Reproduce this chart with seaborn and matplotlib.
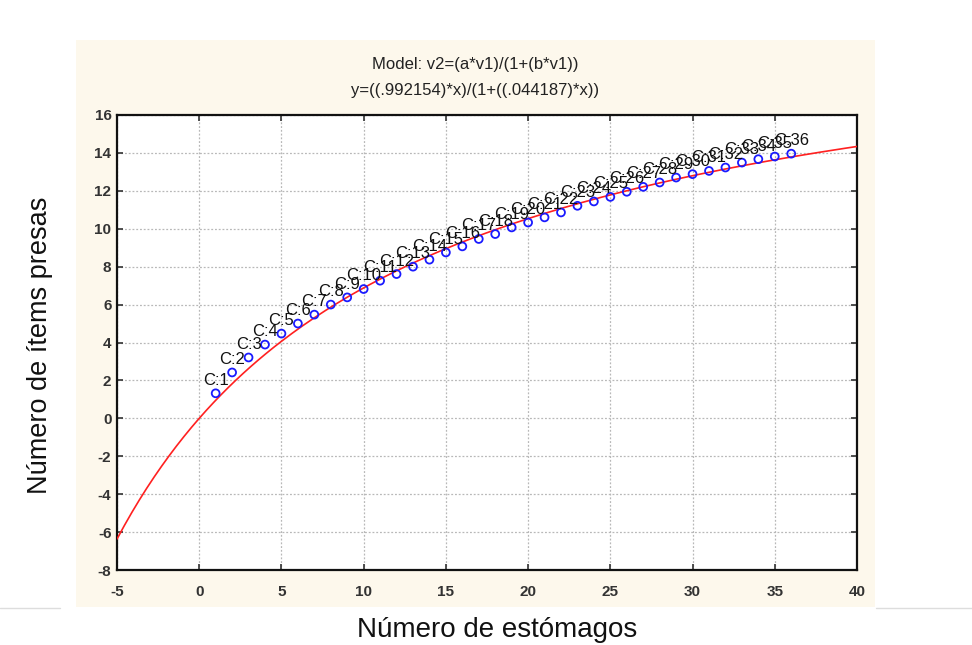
import numpy as np
import pandas as pd
import matplotlib
matplotlib.use("Agg")
import matplotlib.pyplot as plt
from matplotlib import font_manager
import seaborn as sns

# ---- data ----
estomagos = list(range(1, 37))
items = [1.32, 2.42, 3.21, 3.89, 4.47, 5.00, 5.47, 6.00, 6.38, 6.82,
         7.26, 7.61, 8.00, 8.37, 8.75, 9.07, 9.46, 9.72, 10.07, 10.33,
         10.60, 10.86, 11.21, 11.44, 11.68, 11.95, 12.21, 12.44, 12.70, 12.88,
         13.05, 13.23, 13.49, 13.67, 13.81, 13.96]
point_labels = [f"C:{i}" for i in estomagos]

# model parameters shown in the chart title
a_param = 0.992154
b_param = 0.044187
curve_x = list(np.linspace(-5, 40, 200))

xticks = [-5, 0, 5, 10, 15, 20, 25, 30, 35, 40]
yticks = [-8, -6, -4, -2, 0, 2, 4, 6, 8, 10, 12, 14, 16]

title1 = "Model: v2=(a*v1)/(1+(b*v1))"
title2 = "y=((.992154)*x)/(1+((.044187)*x))"
xlabel = "Número de estómagos"
ylabel = "Número de ítems presas"

# ---- plotting ----
sns.set_theme(style="white")
plt.rcParams['font.family'] = ['Liberation Sans', 'DejaVu Sans']

installed = {f.name for f in font_manager.fontManager.ttflist}
narrow = 'Liberation Sans Narrow' if 'Liberation Sans Narrow' in installed else 'Liberation Sans'

fig = plt.figure(figsize=(9.72, 6.45), dpi=100)
fig.patch.set_facecolor("white")

# cream panel behind the chart
panel = plt.Rectangle((76 / 972, 1 - 607 / 645), (875 - 76) / 972, (607 - 40) / 645,
                      transform=fig.transFigure, facecolor="#fdf8ec", edgecolor="none", zorder=-5)
fig.patches.append(panel)

# faint page-layout lines
fig.add_artist(plt.Line2D([0, 60 / 972], [1 - 608 / 645] * 2, transform=fig.transFigure,
                          color="#dddddd", lw=1, zorder=-5))
fig.add_artist(plt.Line2D([876 / 972, 1], [1 - 608 / 645] * 2, transform=fig.transFigure,
                          color="#dddddd", lw=1, zorder=-5))

ax = fig.add_axes([117 / 972, 1 - 570 / 645, (857 - 117) / 972, (570 - 115) / 645])
ax.set_zorder(1)
ax.set_facecolor("white")

curve_df = pd.DataFrame({"x": curve_x})
curve_df["y"] = a_param * curve_df["x"] / (1 + b_param * curve_df["x"])
sns.lineplot(data=curve_df, x="x", y="y", ax=ax, color="#ff2020", lw=1.2, zorder=3)

pts = pd.DataFrame({"x": estomagos, "y": items, "lab": point_labels})
sns.scatterplot(data=pts, x="x", y="y", ax=ax, marker="o", s=32,
                facecolor="none", edgecolor="#1a1aff", linewidth=1.3, zorder=4)

for xv, yv, lab in zip(pts["x"], pts["y"], pts["lab"]):
    ax.annotate(lab, (xv, yv), xytext=(0, 4), textcoords="offset points",
                ha="center", va="bottom", fontsize=12, color="#111111", zorder=5)

ax.set_xlim(-5, 40)
ax.set_ylim(-8, 16)
ax.set_xticks(xticks)
ax.set_yticks(yticks)
ax.set_xticklabels([str(t) for t in xticks])
ax.set_yticklabels([str(t) for t in yticks])
ax.tick_params(axis="both", which="both", direction="in", length=4, width=1.2,
               colors="#333333", labelsize=11, top=True, right=True,
               labeltop=False, labelright=False, bottom=True, left=True)
ax.tick_params(axis="x", pad=11)
ax.tick_params(axis="y", pad=4)
for lab in ax.get_xticklabels() + ax.get_yticklabels():
    lab.set_fontweight("bold")
    lab.set_family([narrow, 'Liberation Sans'])
ax.grid(True, color="#b8b8b8", linestyle=(0, (1.5, 1.5)), linewidth=0.9)
for sp in ax.spines.values():
    sp.set_color("#111111")
    sp.set_linewidth(1.6)
    sp.set_visible(True)

ax.set_xlabel("")
ax.set_ylabel("")

fig.text(475 / 972, 1 - 65 / 645, title1, ha="center", va="center", fontsize=12, color="#222222")
fig.text(475 / 972, 1 - 91 / 645, title2, ha="center", va="center", fontsize=12, color="#222222")
fig.text(497 / 972, 1 - 630 / 645, xlabel, ha="center", va="center", fontsize=20, color="#111111")
fig.text(40 / 972, 1 - 345 / 645, ylabel, ha="center", va="center", rotation=90,
         fontsize=19.5, color="#111111")

fig.savefig("out.png", dpi=100, facecolor="white")
